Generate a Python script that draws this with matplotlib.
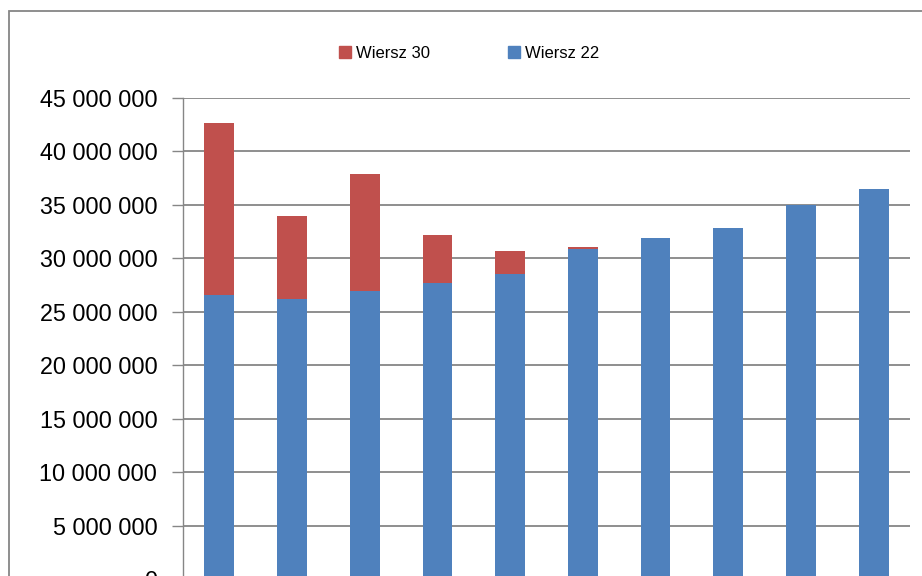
import matplotlib.pyplot as plt
from matplotlib.patches import Rectangle, Patch
from matplotlib.ticker import FuncFormatter

# dane
kategorie = list(range(1, 11))
wiersz_22 = [26570000, 26200000, 26950000, 27690000, 28560000,
             30850000, 31900000, 32840000, 35020000, 36490000]
wiersz_30 = [16090000, 7760000, 10940000, 4500000, 2130000,
             210000, 0, 0, 0, 0]

niebieski = '#4F81BD'
czerwony = '#C0504D'
szary = '#868686'

plt.rcParams['font.family'] = ['Liberation Sans', 'DejaVu Sans']

fig = plt.figure(figsize=(9.22, 5.76), dpi=100)
W, H = 922, 576

# ramka wykresu (przycieta z prawej i z dolu)
fig.patches.append(Rectangle((8.5 / W, -0.1), 1.2, 1 - 11 / H + 0.1,
                             transform=fig.transFigure, fill=False,
                             edgecolor=szary, lw=1.3))

ax = fig.add_axes([183 / W, 1 - 579 / H, (910 - 183) / W, (579 - 98) / H])

x = range(len(kategorie))
ax.bar(x, wiersz_22, width=0.41, color=niebieski, zorder=3, label='Wiersz 22')
ax.bar(x, wiersz_30, width=0.41, bottom=wiersz_22, color=czerwony, zorder=3,
       label='Wiersz 30')

ax.set_xlim(-0.5, len(kategorie) - 0.5)
ax.set_ylim(0, 45000000)
ax.set_yticks(range(0, 45000001, 5000000))
ax.yaxis.set_major_formatter(FuncFormatter(lambda v, p: f'{int(v):,}'.replace(',', ' ')))
ax.set_xticks([])

ax.grid(axis='y', color=szary, lw=1.3, zorder=0)
for s in ['top', 'right', 'bottom']:
    ax.spines[s].set_visible(False)
ax.spines['left'].set_color(szary)
ax.spines['left'].set_linewidth(1.0)
ax.tick_params(axis='y', length=8, width=1.0, color=szary, pad=10.5,
               labelsize=16.8, labelcolor='black')

uchwyty = [Patch(color=czerwony, label='Wiersz 30'),
           Patch(color=niebieski, label='Wiersz 22')]
fig.legend(handles=uchwyty, loc='center', bbox_to_anchor=(469 / W, 1 - 53 / H),
           ncol=2, frameon=False, fontsize=12, handlelength=0.72, handleheight=0.7,
           handletextpad=0.3, columnspacing=4.7)

fig.savefig('out.png', dpi=100)
